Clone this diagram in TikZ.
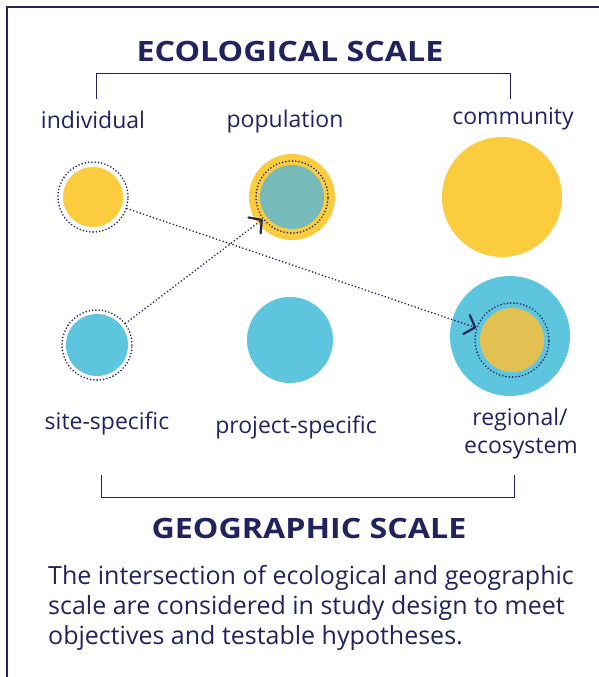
\documentclass[tikz,border=0pt]{standalone}
\usepackage{fontspec}
\setmainfont{Open Sans}
\newfontfamily\headfont[FakeStretch=1.15]{Open Sans}
\usetikzlibrary{arrows.meta}
\definecolor{navy}{RGB}{33,35,94}
\definecolor{sun}{RGB}{251,205,62}
\definecolor{sky}{RGB}{94,197,222}
\definecolor{seagreen}{RGB}{118,186,186}
\definecolor{ochre}{RGB}{226,192,82}
\begin{document}
\begin{tikzpicture}[x=1pt,y=-1pt,
    heading/.style={text=navy, anchor=base, font=\headfont\bfseries\fontsize{28}{34}\selectfont},
    label/.style={text=navy, anchor=base, font=\fontsize{23}{28}\selectfont, align=center},
    caption/.style={text=navy, font=\fontsize{25}{30}\selectfont, align=left, inner sep=0pt},
    disc/.style={circle, inner sep=0pt, draw=none},
    ring/.style={circle, inner sep=0pt, draw=navy, line width=1.8pt, dash pattern=on 0pt off 3.3pt, line cap=round},
    link/.style={navy, line width=1.8pt, dash pattern=on 0pt off 3.5pt, line cap=round, -{Straight Barb[length=9pt, width=20pt, line width=2.2pt, round]}},
    bracket/.style={draw=navy, line width=1pt}]
    \useasboundingbox (0,0) rectangle (599,677);
    % Frame
    \draw[navy, line width=1.3pt] (7,677) -- (7,7) -- (599,7);

    % Headings
    \node[heading] (ecotitle) at (290,62) {ECOLOGICAL SCALE};
    \node[heading] (geotitle) at (309,538) {GEOGRAPHIC SCALE};

    % Brackets
    \coordinate (ecoleft) at (96,99);
    \coordinate (ecoright) at (510,99);
    \draw[bracket] (ecoleft) -- ++(0,-26) -| (ecoright);
    \coordinate (geoleft) at (101,475);
    \coordinate (georight) at (514,475);
    \draw[bracket] (geoleft) -- ++(0,22) -| (georight);

    % Labels
    \node[label] (individual) at (93,128) {individual};
    \node[label] (population) at (285,127) {population};
    \node[label] (community) at (513,124) {community};
    \node[label] (site) at (107,429) {site-specific};
    \node[label] (project) at (296,433) {project-specific};
    \node[label] (regional) at (520,425) {regional/};
    \node[label] (ecosystem) at (521,453) {ecosystem};

    % Circles, ecological
    \node[disc, fill=sun, minimum size=60pt] (indiv) at (93,197) {};
    \node[ring, minimum size=70pt] (indivring) at (93,197) {};
    \node[disc, fill=sun, minimum size=86pt] (pop) at (292,197) {};
    \node[disc, fill=seagreen, minimum size=64pt] (popinner) at (292,197) {};
    \node[ring, minimum size=72pt] (popring) at (292,197) {};
    \node[disc, fill=sun, minimum size=120pt] (comm) at (502,197) {};

    % Circles, geographic
    \node[disc, fill=sky, minimum size=62pt] (sitedisc) at (97,345) {};
    \node[ring, minimum size=70pt] (sitering) at (97,345) {};
    \node[disc, fill=sky, minimum size=86pt] (projdisc) at (290,340) {};
    \node[disc, fill=sky, minimum size=120pt] (regdisc) at (510,336) {};
    \node[disc, fill=ochre, minimum size=64pt] (reginner) at (512,340) {};
    \node[ring, minimum size=74pt] (regring) at (512,340) {};

    % Arrows
    \draw[link] (indivring) -- (regring);
    \draw[link] (sitering) -- (popring);

    % Caption
    \node[caption, anchor=north west] (caption) at (48,565) {The intersection of ecological and geographic\\scale are considered in study design to meet\\objectives and testable hypotheses.};
\end{tikzpicture}
\end{document}
